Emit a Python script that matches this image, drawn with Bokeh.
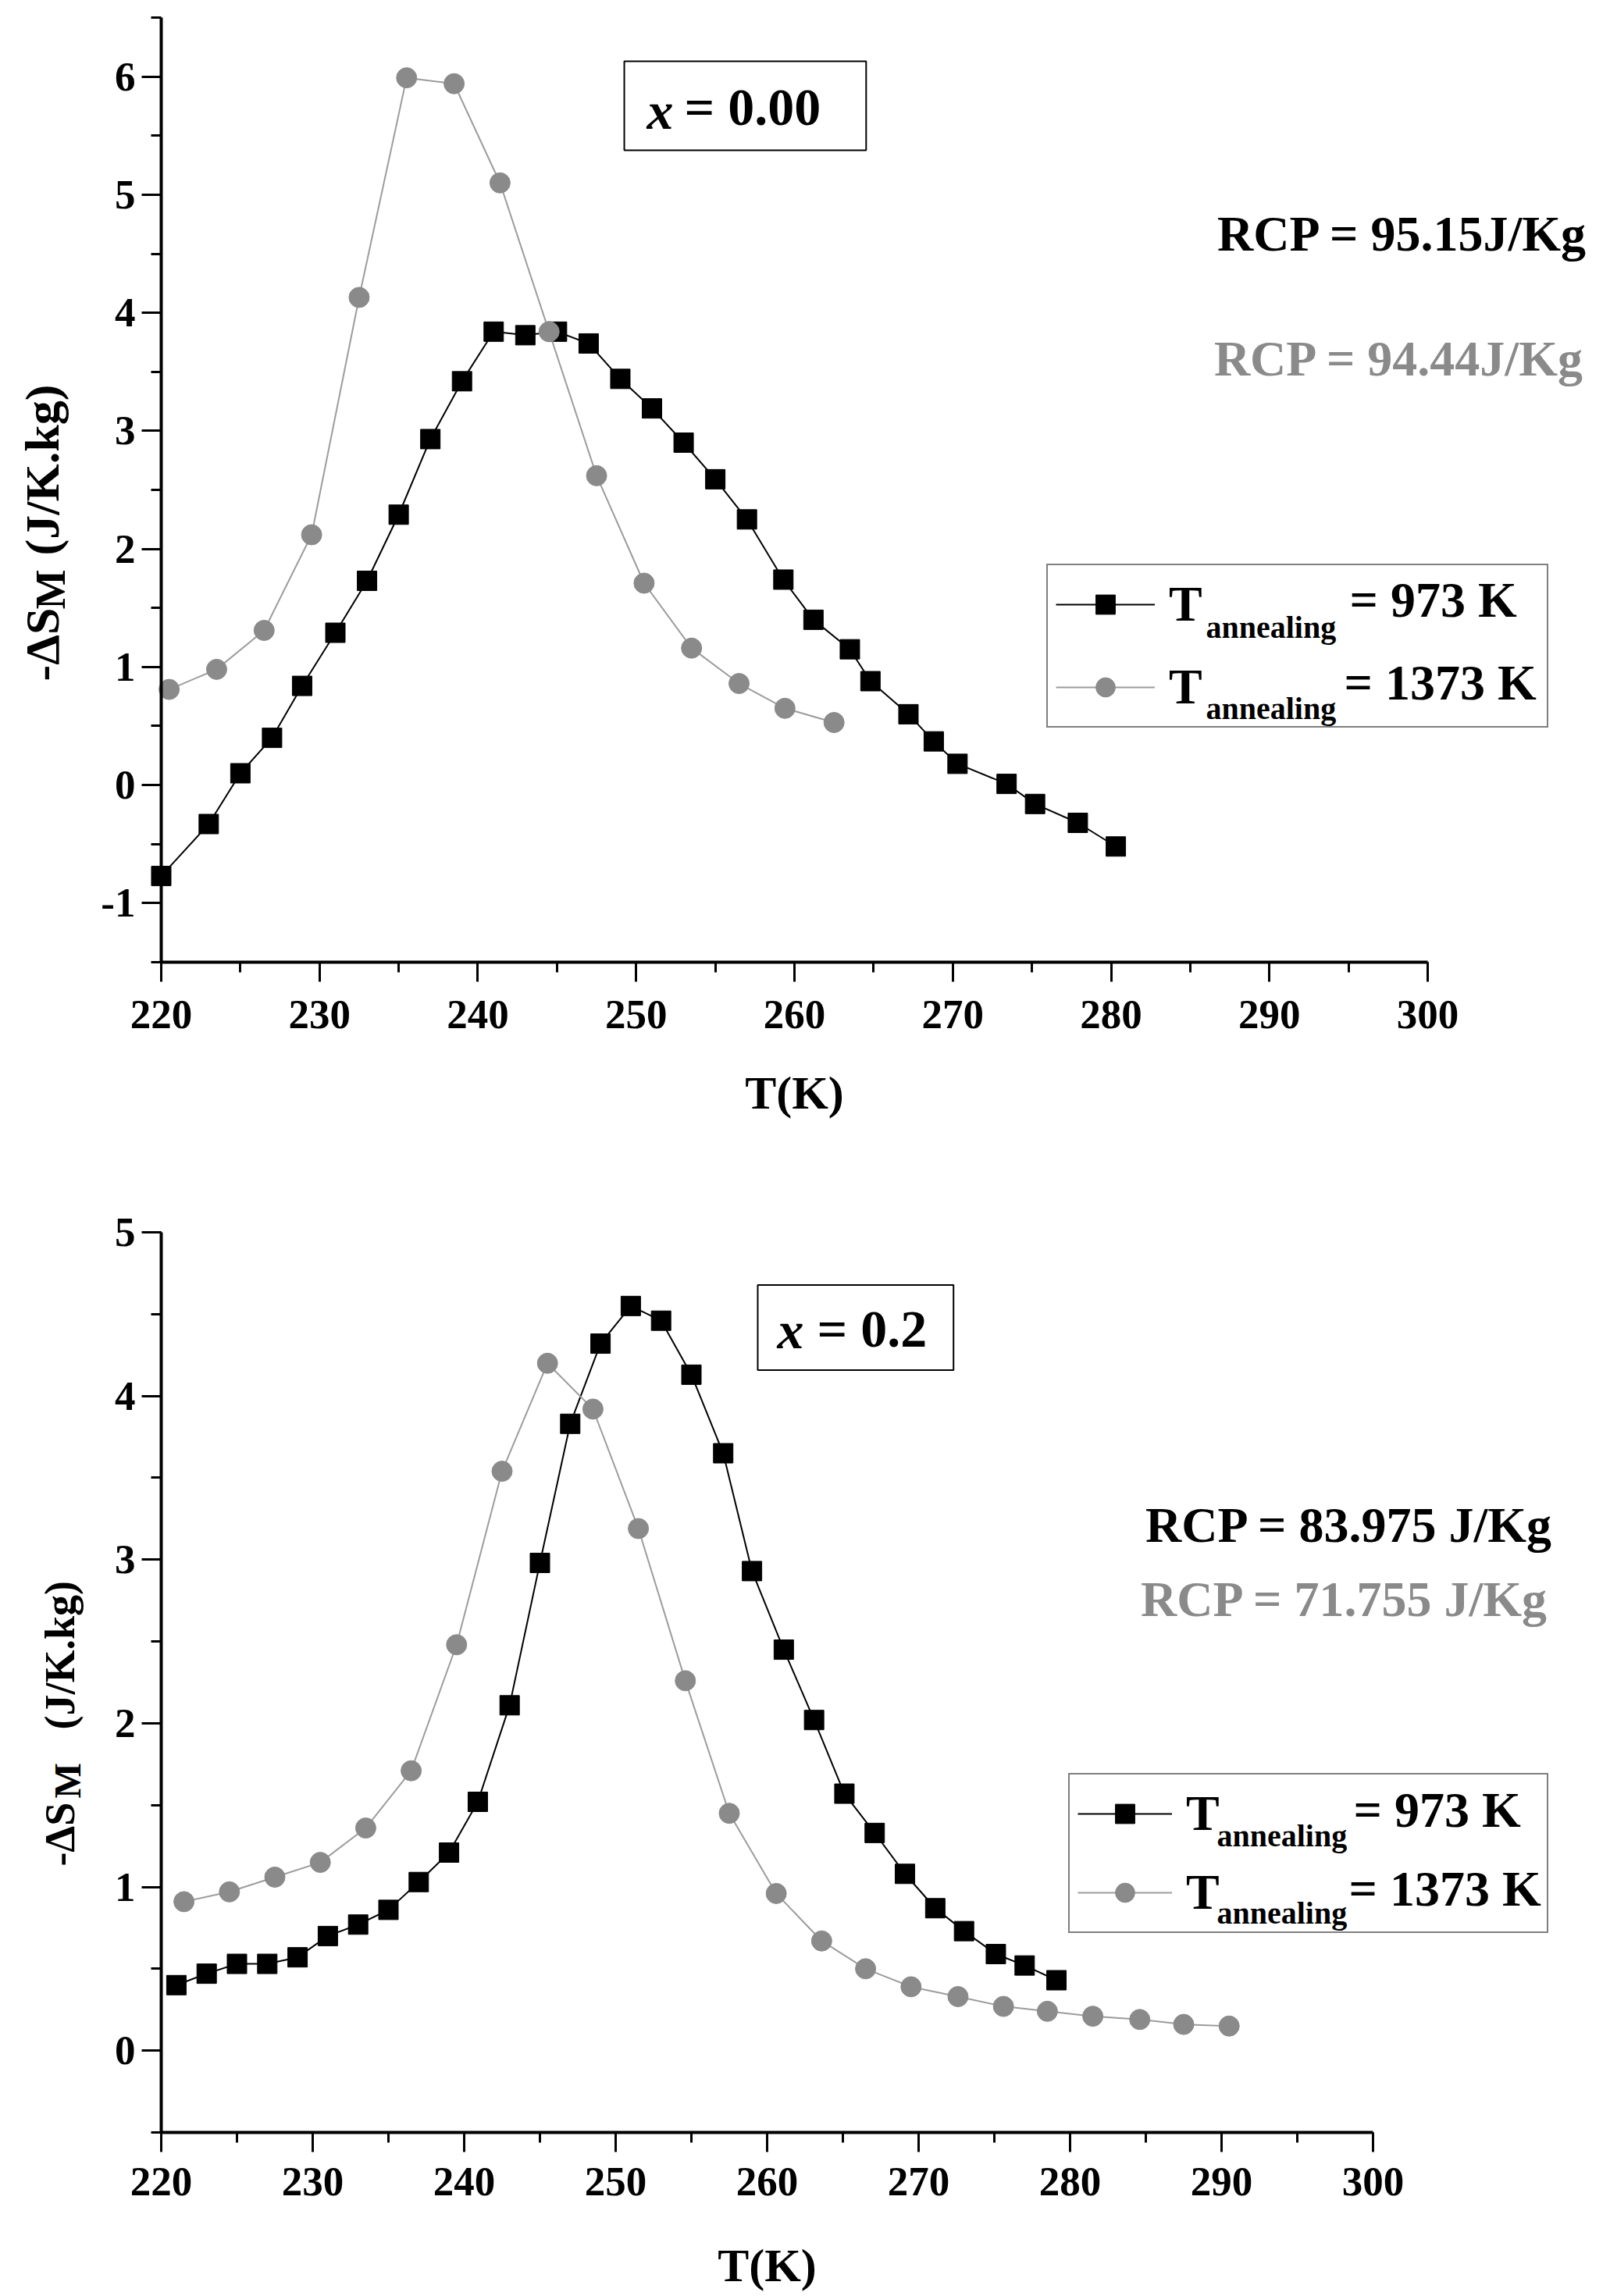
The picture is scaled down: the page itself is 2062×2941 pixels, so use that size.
from bokeh.plotting import figure
from bokeh.models import (Range1d, SingleIntervalTicker, Label, Legend, LegendItem,
                          PrintfTickFormatter)
from bokeh.embed import file_html
from bokeh.resources import INLINE

# ---------------- data: x = 0.00 (top panel) ----------------
t973_a = [220.0, 223.0, 225.0, 227.0, 228.9, 231.0, 233.0, 235.0, 237.0, 239.0,
          241.0, 243.0, 245.0, 247.0, 249.0, 251.0, 253.0, 255.0, 257.0, 259.3,
          261.2, 263.5, 264.8, 267.2, 268.8, 270.3, 273.4, 275.2, 277.9, 280.3]
s973_a = [-0.77, -0.33, 0.10, 0.40, 0.84, 1.29, 1.73, 2.29, 2.93, 3.42,
          3.84, 3.81, 3.84, 3.74, 3.44, 3.19, 2.90, 2.59, 2.25, 1.74,
          1.40, 1.15, 0.88, 0.60, 0.37, 0.18, 0.01, -0.16, -0.32, -0.52]
t1373_a = [220.5, 223.5, 226.5, 229.5, 232.5, 235.5, 238.5, 241.4, 244.5, 247.5,
           250.5, 253.5, 256.5, 259.4, 262.5]
s1373_a = [0.81, 0.98, 1.31, 2.12, 4.13, 5.99, 5.94, 5.10, 3.84, 2.62,
           1.71, 1.16, 0.86, 0.65, 0.53]

# ---------------- data: x = 0.2 (bottom panel) ----------------
t973_b = [221.0, 223.0, 225.0, 227.0, 229.0, 231.0, 233.0, 235.0, 237.0, 239.0,
          240.9, 243.0, 245.0, 247.0, 249.0, 251.0, 253.0, 255.0, 257.1, 259.0,
          261.1, 263.1, 265.1, 267.1, 269.1, 271.1, 273.0, 275.1, 277.0, 279.1]
s973_b = [0.40, 0.47, 0.53, 0.53, 0.57, 0.70, 0.77, 0.86, 1.03, 1.21,
          1.52, 2.11, 2.98, 3.83, 4.32, 4.55, 4.46, 4.13, 3.65, 2.93,
          2.45, 2.02, 1.57, 1.33, 1.08, 0.87, 0.73, 0.59, 0.52, 0.43]
t1373_b = [221.5, 224.5, 227.5, 230.5, 233.5, 236.5, 239.5, 242.5, 245.5,
           248.5, 251.5, 254.6, 257.5, 260.6, 263.6, 266.5, 269.5, 272.6, 275.6,
           278.5, 281.5, 284.6, 287.5, 290.5]
s1373_b = [0.91, 0.97, 1.06, 1.15, 1.36, 1.71, 2.48, 3.54, 4.20,
           3.92, 3.19, 2.26, 1.45, 0.96, 0.67, 0.50, 0.39, 0.33, 0.27,
           0.24, 0.21, 0.19, 0.16, 0.15]

x_bounds = (220, 300)
x_ticks_interval = 10
legend_labels = ["= 973 K", "= 1373 K"]
rcp_a = ["RCP = 95.15J/Kg", "RCP = 94.44J/Kg"]
rcp_b = ["RCP = 83.975 J/Kg", "RCP = 71.755 J/Kg"]

FONT = "Liberation Serif"
GRAY = "#8a8a8a"
GRAY_LINE = "#9c9c9c"


def lbl(p, x, y, text, size, color="black", align="left", angle=0.0,
        style="bold", **kw):
    p.add_layout(Label(x=x, y=y, x_units="data", y_units="data", text=text,
                       text_font=FONT, text_font_style=style,
                       text_font_size=size, text_color=color,
                       text_align=align, text_baseline="alphabetic",
                       angle=angle, level="overlay", **kw))


def panel(t1, s1, t2, s2, y_bounds, height, xr, yr, cfg):
    p = figure(width=2062, height=height, x_range=Range1d(*xr),
               y_range=Range1d(*yr), output_backend="svg",
               toolbar_location=None, min_border=0)
    p.xgrid.visible = False
    p.ygrid.visible = False
    p.outline_line_color = None
    p.background_fill_color = "white"
    p.border_fill_color = "white"
    p.xaxis.ticker = SingleIntervalTicker(interval=x_ticks_interval, num_minor_ticks=2)
    p.yaxis.ticker = SingleIntervalTicker(interval=1, num_minor_ticks=2)
    p.yaxis.formatter = PrintfTickFormatter(format="%d")
    p.xaxis.fixed_location = y_bounds[0]
    p.yaxis.fixed_location = x_bounds[0]
    p.xaxis.bounds = x_bounds
    p.yaxis.bounds = y_bounds
    for ax in (p.xaxis[0], p.yaxis[0]):
        ax.axis_line_width = 4
        ax.axis_line_color = "black"
        ax.major_tick_line_width = 3
        ax.minor_tick_line_width = 3
        ax.major_tick_out = 25
        ax.major_tick_in = 0
        ax.minor_tick_out = 13
        ax.minor_tick_in = 0
        ax.major_label_text_font = FONT
        ax.major_label_text_font_style = "bold"
        ax.major_label_text_font_size = "53px"
        ax.major_label_text_color = "black"
    p.xaxis.major_label_standoff = cfg["xstand"]
    p.yaxis.major_label_standoff = 8
    p.xaxis.axis_label = "T(K)"
    p.xaxis.axis_label_text_font = FONT
    p.xaxis.axis_label_text_font_style = "bold"
    p.xaxis.axis_label_text_font_size = "60px"
    p.xaxis.axis_label_text_color = "black"
    p.xaxis.axis_label_standoff = cfg["xlstand"]

    l1 = p.line(t1, s1, line_color="black", line_width=2)
    m1 = p.scatter(t1, s1, marker="square", size=25, fill_color="black",
                   line_color="black")
    l2 = p.line(t2, s2, line_color=GRAY_LINE, line_width=2)
    m2 = p.scatter(t2, s2, marker="circle", size=26, fill_color=GRAY,
                   line_color=GRAY)

    leg = Legend(items=[LegendItem(label="T", renderers=[l1, m1]),
                        LegendItem(label="T", renderers=[l2, m2])],
                 location=cfg["leg_loc"], orientation="vertical",
                 glyph_width=cfg["gw"], glyph_height=62, label_height=80,
                 label_width=cfg["lw"], label_standoff=18, padding=cfg["pad"],
                 spacing=cfg["sp"], margin=0,
                 border_line_color="black", border_line_width=2,
                 background_fill_alpha=0.0,
                 label_text_font=FONT, label_text_font_style="bold",
                 label_text_font_size="64px", label_text_color="black")
    p.add_layout(leg)

    # legend subscripts and values
    for (ax_, ay_), (vx_, vy_), txt in zip(cfg["sub_pos"], cfg["val_pos"], legend_labels):
        lbl(p, ax_, ay_, "annealing", "40px")
        lbl(p, vx_, vy_, txt, "64px")

    # RCP annotations
    (r1x, r1y), (r2x, r2y) = cfg["rcp_pos"]
    lbl(p, r1x, r1y, cfg["rcp"][0], "64px", align="right")
    lbl(p, r2x, r2y, cfg["rcp"][1], "64px", color=GRAY, align="right")

    # composition box
    bx, by = cfg["x_pos"]
    lbl(p, bx, by, "x", "68px", style="bold italic")
    ex, ey = cfg["box_anchor"]
    lbl(p, ex, ey, cfg["xval"], "68px", border_line_color="black",
        border_line_width=2, background_fill_color=None,
        padding=cfg["box_pad"])

    # y axis label
    yl = cfg["ylab"]
    fs = cfg["yfs"]
    lbl(p, yl[0][0], yl[0][1], "-\u0394S", fs, angle=1.5708)
    lbl(p, yl[1][0], yl[1][1], "M", cfg["mfs"], angle=1.5708)
    lbl(p, yl[2][0], yl[2][1], "(J/K.kg)", fs, angle=1.5708)
    return p


cfg_a = dict(
    xstand=25, xlstand=46,
    leg_loc=(1340, 526), gw=127, lw=474, pad=10, sp=26,
    sub_pos=[(285.99, 1.336), (285.99, 0.648)],
    val_pos=[(295.07, 1.568), (294.72, 0.867)],
    rcp=rcp_a, rcp_pos=[(310.16, 4.669), (309.96, 3.611)],
    x_pos=(250.68, 5.713), box_anchor=(249.25, 5.753), xval="= 0.00",
    box_pad=dict(left=77, right=58, top=21, bottom=17),
    ylab=[(212.50, 0.880), (213.00, 1.488), (212.50, 1.945)],
    yfs="62px", mfs="54px",
)
cfg_b = dict(
    xstand=21, xlstand=53,
    leg_loc=(1368, 465), gw=121, lw=452, pad=10, sp=21,
    sub_pos=[(289.69, 1.312), (289.69, 0.839)],
    val_pos=[(298.71, 1.470), (298.40, 0.988)],
    rcp=rcp_b, rcp_pos=[(311.96, 3.211), (311.65, 2.758)],
    x_pos=(260.67, 4.403), box_anchor=(259.38, 4.418), xval="= 0.2",
    box_pad=dict(left=76, right=34, top=18, bottom=15),
    ylab=[(213.30, 1.126), (213.81, 1.541), (213.30, 1.961)],
    yfs="54px", mfs="48px",
)

p1 = panel(t973_a, s973_a, t1373_a, s1373_a, (-1.5, 6.5), 1458,
           (209.840, 311.541), (-2.9943, 6.6455), cfg_a)
p2 = panel(t973_b, s973_b, t1373_b, s1373_b, (-0.5, 5.0), 1483,
           (209.381, 315.670), (-1.5019, 5.5725), cfg_b)

open("out.html", "w").write(file_html([p1, p2], INLINE))
